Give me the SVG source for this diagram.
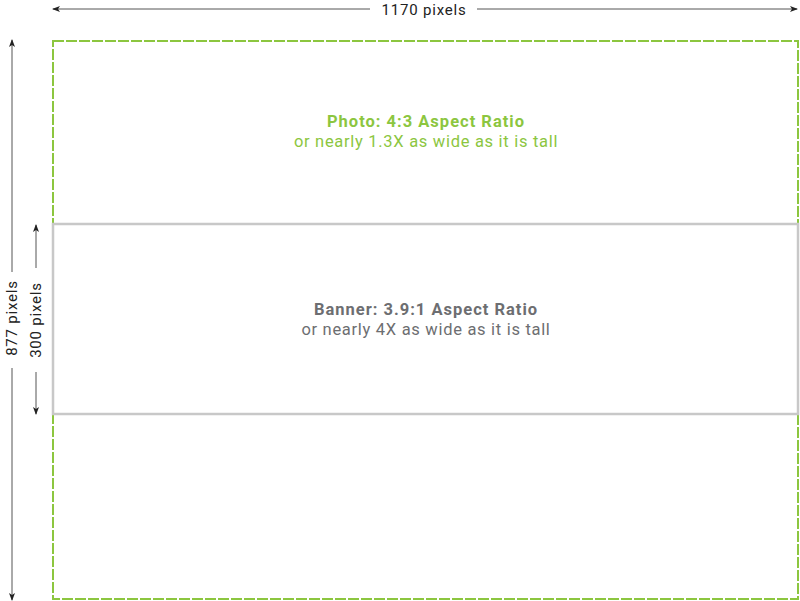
<svg xmlns="http://www.w3.org/2000/svg" width="800" height="601" viewBox="0 0 800 601">
<style>
.dim{stroke:#555;stroke-width:1;fill:none}
.dt{font-family:Roboto,"Liberation Sans",sans-serif;font-size:15px;fill:#222;text-anchor:middle;letter-spacing:0.8px}
.lbl{font-family:Roboto,"Liberation Sans",sans-serif;font-size:16.5px;text-anchor:middle;letter-spacing:0.7px}
.b{font-weight:bold;letter-spacing:1px}
</style>
<defs>
<marker id="ah" markerWidth="8" markerHeight="6" refX="7" refY="3" orient="auto" markerUnits="userSpaceOnUse">
<path d="M0,0 L8,3 L0,6 L2,3 Z" fill="#222"/>
</marker>
</defs>
<rect width="800" height="601" fill="#fff"/>
<g id="photo">
<rect x="53" y="41" width="745" height="558" fill="none" stroke="#8cc63f" stroke-width="2" stroke-dasharray="11,2"/>
<text class="lbl b" x="426" y="127" fill="#8cc63f">Photo: 4:3 Aspect Ratio</text>
<text class="lbl" x="426" y="147" fill="#8cc63f">or nearly 1.3X as wide as it is tall</text>
</g>
<g id="banner">
<rect x="53" y="224" width="745" height="190" fill="#fff" stroke="#c8c8c8" stroke-width="2.5"/>
<text class="lbl b" x="426" y="315" fill="#6d6e71">Banner: 3.9:1 Aspect Ratio</text>
<text class="lbl" x="426" y="335" fill="#6d6e71">or nearly 4X as wide as it is tall</text>
</g>
<g id="connectors">
<line class="dim" x1="370" y1="9" x2="53" y2="9" marker-end="url(#ah)"/>
<line class="dim" x1="477" y1="9" x2="797" y2="9" marker-end="url(#ah)"/>
<line class="dim" x1="12" y1="272" x2="12" y2="40" marker-end="url(#ah)"/>
<line class="dim" x1="12" y1="368" x2="12" y2="600" marker-end="url(#ah)"/>
<line class="dim" x1="36" y1="268" x2="36" y2="225" marker-end="url(#ah)"/>
<line class="dim" x1="36" y1="372" x2="36" y2="414" marker-end="url(#ah)"/>
</g>
<g id="dims">
<text class="dt" x="424" y="14.5">1170 pixels</text>
<text class="dt" transform="translate(17,318) rotate(-90)">877 pixels</text>
<text class="dt" transform="translate(41,320) rotate(-90)">300 pixels</text>
</g>
</svg>
